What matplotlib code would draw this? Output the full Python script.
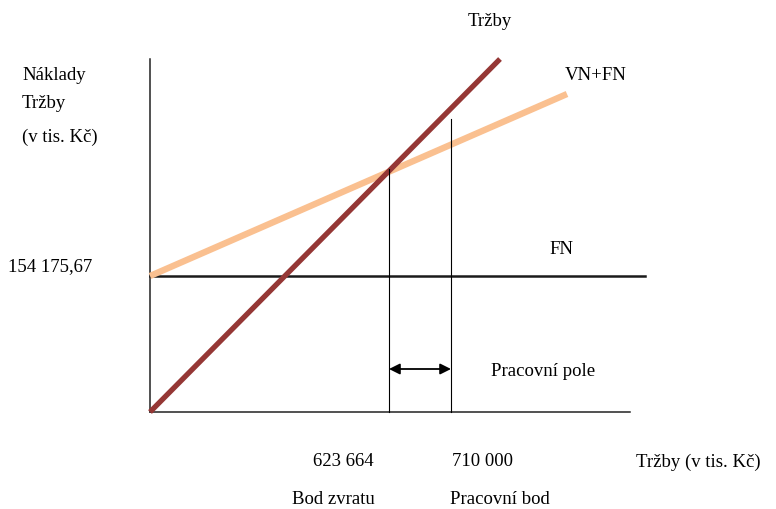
import matplotlib.pyplot as plt
from matplotlib.patches import FancyArrowPatch

plt.rcParams['font.family'] = ['Liberation Serif', 'DejaVu Serif']

# schematic break-even chart, units (origin = axes corner)
revenue_x = [0, 350]
revenue_y = [0, 353]
cost_x = [0, 417]
cost_y = [136, 318]
fixed_x = [0, 495]
fixed_y = [136, 136]
breakeven_x = 239
breakeven_top = 243
work_x = 301
work_top = 293
axis_len_x = 480
axis_len_y = 353
arrow_y = 43

fixed_label = '154 175,67'
breakeven_label = '623 664'
work_label = '710 000'


def main():
    fig = plt.figure(figsize=(7.76, 5.10), dpi=100)
    ax = fig.add_axes([0, 0, 1, 1])
    ax.set_xlim(-150, 626)
    ax.set_ylim(-97, 413)
    ax.axis('off')

    # axes
    ax.plot([0, 0], [0, axis_len_y], color='#222222', lw=1.1)
    ax.plot([0, axis_len_x], [0, 0], color='#222222', lw=1.1)

    # fixed costs
    ax.plot(fixed_x, fixed_y, color='#1a1a1a', lw=1.8)
    # total costs VN+FN
    ax.plot(cost_x, cost_y, color='#FAC090', lw=4.6, solid_capstyle='butt')
    # revenue
    ax.plot(revenue_x, revenue_y, color='#953735', lw=3.8, solid_capstyle='butt')

    # break-even / working point
    ax.plot([breakeven_x, breakeven_x], [0, breakeven_top], color='black', lw=0.8)
    ax.plot([work_x, work_x], [0, work_top], color='black', lw=0.8)

    arr = FancyArrowPatch((breakeven_x, arrow_y), (work_x, arrow_y),
                          arrowstyle='<|-|>', mutation_scale=16,
                          color='black', lw=1.3, shrinkA=0, shrinkB=0)
    ax.add_patch(arr)

    fs = 13.5
    ax.text(340, 391, 'Tržby', fontsize=fs, ha='center', va='center')
    ax.text(446, 338, 'VN+FN', fontsize=fs, ha='center', va='center')
    ax.text(411, 163, 'FN', fontsize=fs, ha='center', va='center')
    ax.text(-128, 338, 'Náklady', fontsize=fs, ha='left', va='center')
    ax.text(-128, 310, 'Tržby', fontsize=fs, ha='left', va='center')
    ax.text(-128, 276, '(v tis. Kč)', fontsize=fs, ha='left', va='center')
    ax.text(-142, 146, fixed_label, fontsize=fs, ha='left', va='center')
    ax.text(341, 41, 'Pracovní pole', fontsize=fs, ha='left', va='center')
    ax.text(193, -49, breakeven_label, fontsize=fs, ha='center', va='center')
    ax.text(332, -49, work_label, fontsize=fs, ha='center', va='center')
    ax.text(486, -49, 'Tržby (v tis. Kč)', fontsize=fs, ha='left', va='center')
    ax.text(183, -87, 'Bod zvratu', fontsize=fs, ha='center', va='center')
    ax.text(350, -87, 'Pracovní bod', fontsize=fs, ha='center', va='center')

    fig.savefig('out.png', dpi=100)
    plt.close(fig)


if __name__ == "__main__":
    main()
